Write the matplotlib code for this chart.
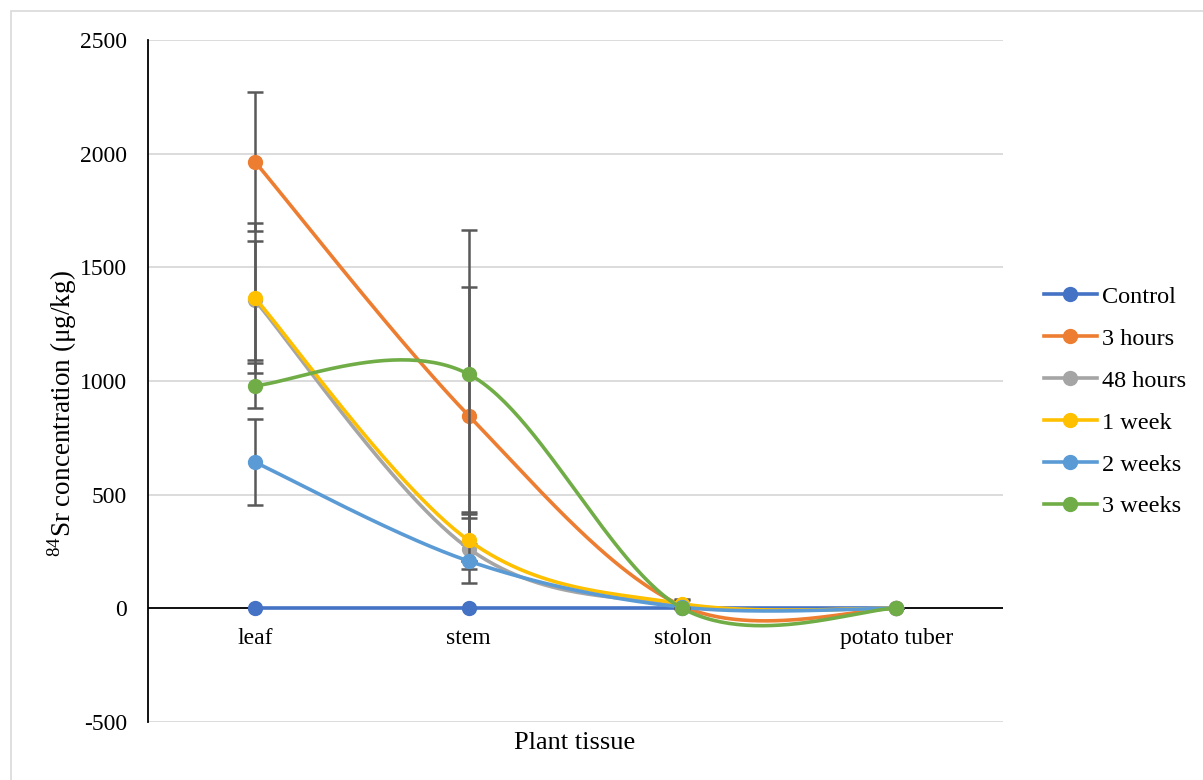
import numpy as np
import matplotlib
matplotlib.use("Agg")
import matplotlib.pyplot as plt
from matplotlib.lines import Line2D
from matplotlib.patches import Rectangle

categories = ["leaf", "stem", "stolon", "potato tuber"]
series_names = ["Control", "3 hours", "48 hours", "1 week", "2 weeks", "3 weeks"]
control = [0, 0, 0, 0]
hours3 = [1965, 848, 10, 0]
hours48 = [1355, 263, 15, 0]
week1 = [1365, 299, 20, 0]
weeks2 = [643, 208, 5, 0]
weeks3 = [980, 1030, 0, 0]
err_control = [0, 0, 0, 0]
err_hours3 = [305, 566, 0, 0]
err_hours48 = [262, 152, 20, 0]
err_week1 = [330, 125, 20, 0]
err_weeks2 = [190, 0, 0, 0]
err_weeks3 = [100, 634, 0, 0]
colors = ["#4472C4", "#ED7D31", "#A5A5A5", "#FFC000", "#5B9BD5", "#70AD47"]
y_ticks = [-500, 0, 500, 1000, 1500, 2000, 2500]

plt.rcParams['font.family'] = ['Liberation Serif', 'DejaVu Serif']
plt.rcParams['mathtext.fontset'] = 'custom'
plt.rcParams['mathtext.rm'] = 'Liberation Serif'

W, H = 1203, 780
fig = plt.figure(figsize=(W / 100, H / 100), dpi=100)
ax = fig.add_axes([148 / W, 1 - 722 / H, (1003 - 148) / W, (722 - 40) / H])

fig.patches.append(Rectangle((11 / W, -0.1), 1.2, 1 - 11 / H + 0.1, transform=fig.transFigure,
                             fill=False, edgecolor="#d9d9d9", linewidth=1.2))


def excel_smooth(xs, ys, n=60):
    xs = np.asarray(xs, float)
    ys = np.asarray(ys, float)
    P = np.column_stack([xs, ys])
    out = [P[0]]
    m = len(P)
    for i in range(m - 1):
        p0 = P[i - 1] if i > 0 else P[i]
        p1 = P[i]
        p2 = P[i + 1]
        p3 = P[i + 2] if i + 2 < m else P[i + 1]
        c1 = p1 + (p2 - p0) / 6.0
        c2 = p2 - (p3 - p1) / 6.0
        t = np.linspace(0, 1, n)[1:, None]
        seg = ((1 - t) ** 3) * p1 + 3 * ((1 - t) ** 2) * t * c1 + 3 * (1 - t) * t ** 2 * c2 + t ** 3 * p2
        out.extend(seg)
    out = np.array(out)
    return out[:, 0], out[:, 1]


x = np.arange(len(categories)) + 0.5
data = [control, hours3, hours48, week1, weeks2, weeks3]
errs = [err_control, err_hours3, err_hours48, err_week1, err_weeks2, err_weeks3]

for y_t in y_ticks:
    ax.axhline(y_t, color="#d9d9d9", linewidth=1.3, zorder=0)
ax.axhline(0, color="black", linewidth=1.3, zorder=1)

for k, (vals, e, c) in enumerate(zip(data, errs, colors)):
    if any(v > 0 for v in e):
        ax.errorbar(x, vals, yerr=e, fmt="none", ecolor="#595959", elinewidth=1.8,
                    capsize=5.5, capthick=1.8, zorder=2 + 2 * k)
    sx, sy = excel_smooth(x, vals)
    ax.plot(sx, sy, color=c, linewidth=2.6, zorder=3 + 2 * k, solid_capstyle="round")
    ax.plot(x, vals, linestyle="none", marker="o", markersize=10, color=c, zorder=3 + 2 * k)

ax.set_xlim(0, 4)
ax.set_ylim(-500, 2500)
ax.set_yticks(y_ticks)
ax.set_yticklabels([str(v) for v in y_ticks], fontsize=17)
ax.set_xticks([])
for xi, lab in zip(x, categories):
    ax.text(xi, -132, lab, ha="center", va="center", fontsize=17)

for s in ["top", "right", "bottom"]:
    ax.spines[s].set_visible(False)
ax.spines["left"].set_linewidth(1.3)
ax.tick_params(axis="y", length=0, pad=15)

fig.text(62 / W, 1 - 414 / H, r"$^{84}$Sr concentration (μg/kg)", fontsize=19.5,
         rotation=90, ha="center", va="center")
fig.text(575 / W, 1 - 743 / H, "Plant tissue", fontsize=19, ha="center", va="center")

handles = [Line2D([0], [0], color=c, linewidth=2.6, marker="o", markersize=10) for c in colors]
leg = fig.legend(handles, series_names, loc="upper left", bbox_to_anchor=(1034 / W, 1 - 276 / H),
                 frameon=False, fontsize=17.5, handlelength=2.2, handletextpad=0.2,
                 labelspacing=0.82, borderaxespad=0)

fig.savefig("out.png", dpi=100)
